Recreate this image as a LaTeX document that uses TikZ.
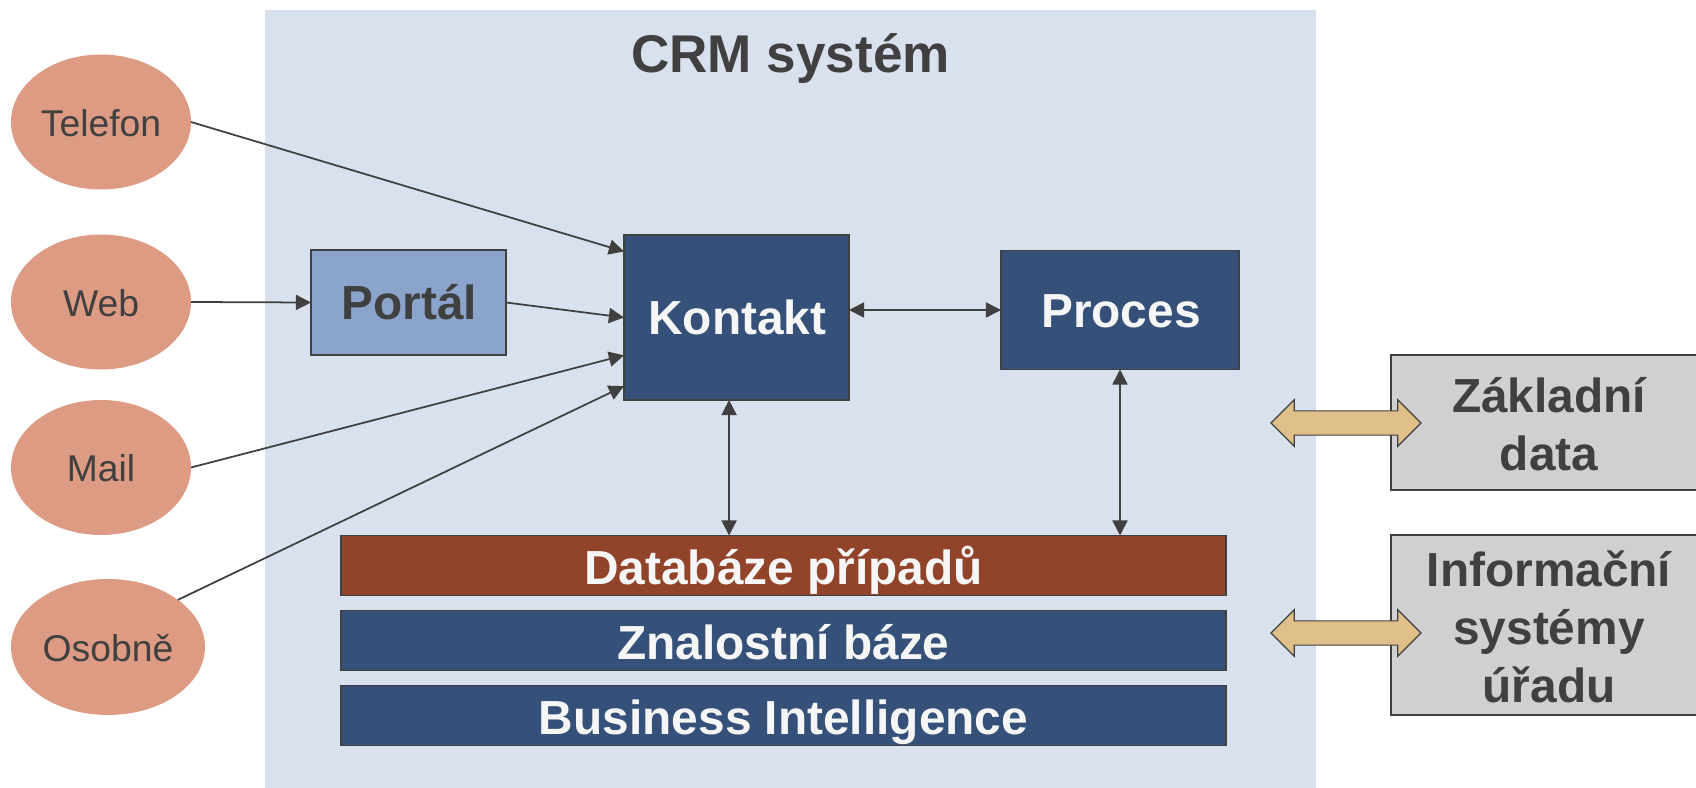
\documentclass[tikz,border=0pt]{standalone}
\usepackage{fontspec}
\setmainfont{Liberation Sans}
\usetikzlibrary{arrows.meta,shapes.geometric,shapes.arrows,calc}
\definecolor{ink}{HTML}{404040}
\definecolor{panelc}{HTML}{D9E1EE}
\definecolor{portalc}{HTML}{8BA4CC}
\definecolor{darkc}{HTML}{355079}
\definecolor{brownc}{HTML}{91442A}
\definecolor{grayc}{HTML}{D0D0D0}
\definecolor{ovalc}{HTML}{DD9B83}
\definecolor{tanc}{HTML}{DFBF8A}
\definecolor{paper}{HTML}{F6F6F6}
\tikzset{
  sized/.style 2 args={minimum width=#1*0.01cm,minimum height=#2*0.01cm},
  oval/.style={ellipse,fill=ovalc,text=ink,inner sep=0pt,outer sep=0pt,text height=8.2pt,text depth=0pt,font=\fontsize{10.6}{12.5}\selectfont},
  boxbase/.style={rectangle,draw=ink,line width=0.4pt,inner sep=0pt,outer sep=0pt,font=\fontsize{13.6}{16.5}\selectfont\bfseries},
  onelined/.style={boxbase,text height=10.8pt,text depth=0.85pt},
  darkbox/.style={onelined,fill=darkc,text=paper},
  barbox/.style={boxbase,text height=11.4pt,text depth=0.85pt,fill=darkc,text=paper},
  portalbox/.style={onelined,fill=portalc,text=ink},
  graybox/.style={boxbase,align=center,fill=grayc,text=ink},
  wire/.style={draw=ink,line width=0.5pt,-{Triangle[length=4.3pt,width=4.3pt]}},
  biwire/.style={draw=ink,line width=0.5pt,{Triangle[length=4.3pt,width=4.3pt]}-{Triangle[length=4.3pt,width=4.3pt]}},
  fatarrow/.style={double arrow,double arrow head extend=0.112cm,double arrow tip angle=90,draw=ink,line width=0.35pt,fill=tanc,inner sep=0pt,outer sep=0pt,minimum width=0.454cm,minimum height=1.5cm}
}
\begin{document}
\begin{tikzpicture}[x=0.01cm,y=-0.01cm]
\useasboundingbox (0,0) rectangle (1696,788);
\clip (0,0) rectangle (1696,788);
\fill[panelc] (265,10) rectangle (1316,788);
\node[font=\fontsize{15.1}{18}\selectfont\bfseries,text=ink,inner sep=0pt,anchor=base] (title) at (790.5,72.5) {CRM systém};
% channels
\node[oval,sized={180}{135}] (tel) at (101,122) {Telefon};
\node[oval,sized={180}{135}] (web) at (101,302) {Web};
\node[oval,sized={180}{135}] (mail) at (101,467.5) {Mail};
\node[oval,sized={194}{136}] (oso) at (108,647) {Osobně};
% core
\node[portalbox,sized={195}{105}] (portal) at (408.5,302.5) {\hspace*{0.5pt}Portál};
\node[darkbox,sized={225}{165}] (kontakt) at (736.5,317.5) {\hspace*{0.5pt}Kontakt};
\node[darkbox,sized={238}{119}] (proces) at (1120,310) {\hspace*{0.5pt}Proces};
\node[barbox,fill=brownc,sized={885}{60}] (db) at (783.5,565.5) {Databáze případů};
\node[barbox,sized={885}{60}] (zb) at (783.5,640.5) {Znalostní báze};
\node[barbox,sized={885}{60}] (bi) at (783.5,715.5) {Business Intelligence};
% outside
\node[graybox,sized={316}{135}] (zd) at (1549,422.5) {\rule{0pt}{11.2pt}Základní\\data};
\node[graybox,sized={316}{180}] (is) at (1549,625) {\rule{0pt}{11.2pt}Informační\\systémy\\úřadu};
\node[fatarrow] (fa) at (1346,423) {\rule{0pt}{0.23cm}};
\node[fatarrow] (fb) at (1346,633) {\rule{0pt}{0.23cm}};
% ports
\coordinate (k1) at ($(kontakt.south west)!0.9!(kontakt.north west)$);
\coordinate (k2) at ($(kontakt.south west)!0.271!(kontakt.north west)$);
\coordinate (k3) at ($(kontakt.south west)!0.084!(kontakt.north west)$);
\coordinate (k4) at ($(kontakt.south west)!0.467!(kontakt.south east)$);
% connectors
\draw[wire] (tel.east) -- (k1);
\draw[wire] (web.east) -- (portal.west);
\draw[wire] (portal.east) -- (kontakt.west);
\draw[wire] (mail.east) -- (k2);
\draw[wire] (oso.34) -- (k3);
\draw[biwire] (kontakt.east |- proces.west) -- (proces.west);
\draw[biwire] (k4) -- (k4 |- db.north);
\draw[biwire] (proces.south) -- (proces.south |- db.north);
\end{tikzpicture}
\end{document}
